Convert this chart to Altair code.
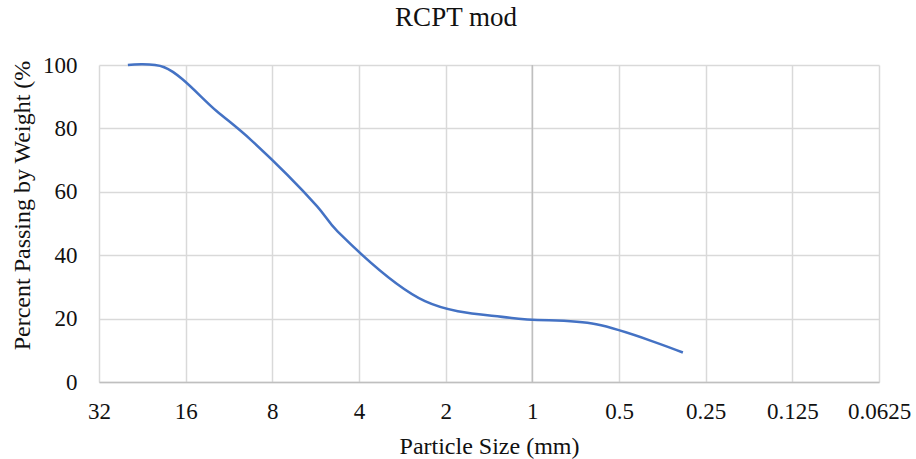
import altair as alt
import pandas as pd

# Sieve sizes (mm) and percent passing
sizes = [25.4, 19, 12.5, 9.5, 5.6, 4.75, 2.36, 1.18, 0.6, 0.3]
passing = [100, 99.3, 85.5, 76.4, 55.5, 47.5, 25.5, 20.2, 18.2, 9.3]

x_ticks = [32, 16, 8, 4, 2, 1, 0.5, 0.25, 0.125, 0.0625]
y_ticks = [0, 20, 40, 60, 80, 100]
axis_cross = [1]

df = pd.DataFrame({"size": sizes, "passing": passing})
df_rule = pd.DataFrame({"size": axis_cross})

FONT = "Liberation Serif"

x_scale = alt.Scale(type="log", base=2, domain=[0.0625, 32], reverse=True)
y_scale = alt.Scale(domain=[0, 100])

x_axis = alt.Axis(
    values=x_ticks, format=".4~f", title="Particle Size (mm)",
    labelFontSize=23, labelPadding=18, ticks=False,
    domainColor="#bfbfbf", domainWidth=1.5,
    grid=True, gridColor="#d9d9d9", gridWidth=1.5,
    titleFontSize=24, titleFontWeight="normal", titleY=52, titleBaseline="top",
    labelColor="#111111", titleColor="#111111", labelFlush=False,
)
y_axis = alt.Axis(
    values=y_ticks, title="Percent Passing by Weight (%",
    labelFontSize=23, labelPadding=22, ticks=False, domain=False,
    grid=True, gridColor="#d9d9d9", gridWidth=1.5,
    titleFontSize=24, titleFontWeight="normal",
    titleX=-77, titleY=140, titleBaseline="middle", titleAlign="center", titleAngle=270,
    labelColor="#111111", titleColor="#111111",
)

line = alt.Chart(df).mark_line(color="#4472C4", strokeWidth=2.5, interpolate="catmull-rom").encode(
    x=alt.X("size:Q", scale=x_scale, axis=x_axis),
    y=alt.Y("passing:Q", scale=y_scale, axis=y_axis),
)

rule = alt.Chart(df_rule).mark_rule(color="#bfbfbf", strokeWidth=1.5).encode(
    x=alt.X("size:Q", scale=x_scale, axis=x_axis),
)

chart = alt.layer(rule, line).properties(
    width=780, height=317,
    title=alt.TitleParams(text="RCPT mod", fontSize=27, font=FONT, fontWeight="normal",
                          anchor="middle", dx=-33, dy=-18, color="#111111"),
    autosize=alt.AutoSizeParams(type="none"),
    padding={"left": 99, "top": 65, "right": 37, "bottom": 77},
).configure(font=FONT).configure_view(stroke=None).configure_axis(labelFont=FONT, titleFont=FONT)

chart.save("out.html", embed_options={"renderer": "svg", "actions": False})
